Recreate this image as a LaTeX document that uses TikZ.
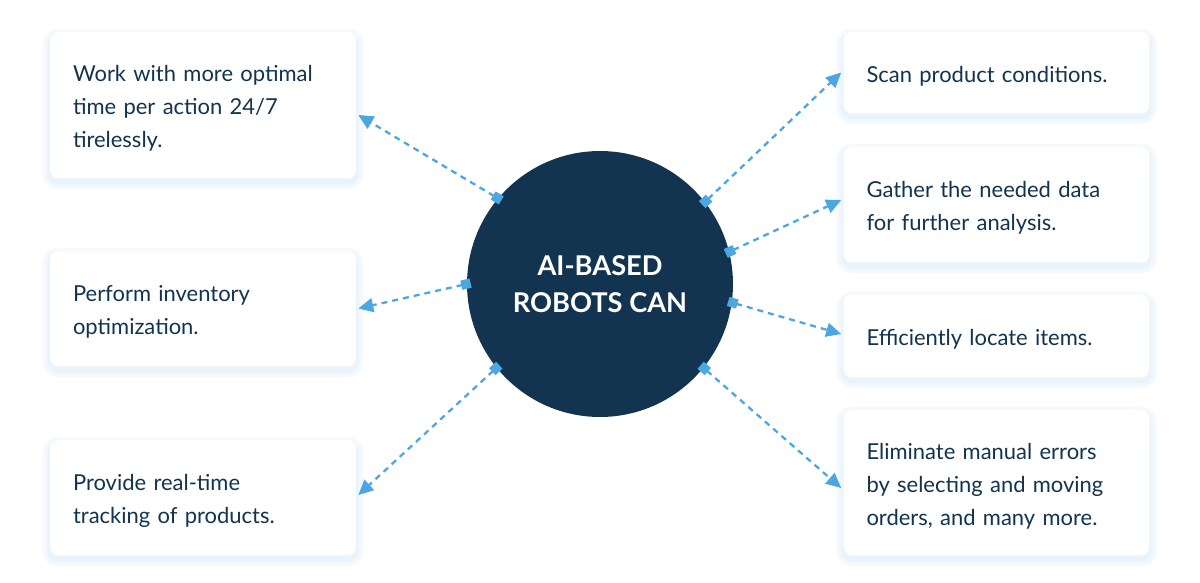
\documentclass[tikz,border=0pt]{standalone}
\usepackage{fontspec}
\setmainfont{Lato}
\usetikzlibrary{arrows.meta}
\definecolor{robotnavy}{RGB}{18,52,80}
\definecolor{linkblue}{RGB}{76,166,224}
\definecolor{shadeblue}{RGB}{190,220,242}

\begin{document}
\begin{tikzpicture}[x=0.02cm, y=-0.02cm,
    glow/.style={preaction={draw=shadeblue, line width=#1, opacity=0.13, transform canvas={yshift=-0.08cm}}},
    card/.style={fill=white, rounded corners=0.16cm, minimum width=6.12cm, minimum height=#1,
        text width=5.2cm, inner xsep=0.46cm, align=left, text=robotnavy,
        font=\fontsize{12.5}{18.8}\selectfont,
        execute at begin node={\rule{0pt}{0.47cm}},
        glow=0.3cm, glow=0.18cm, glow=0.08cm},
    hub/.style={circle, fill=robotnavy, minimum size=5.32cm, text=white, align=center,
        font=\bfseries\fontsize{15.5}{21}\selectfont},
    link/.style={linkblue, line width=1.3pt, dash pattern=on 0.12cm off 0.1cm, shorten <=-0.08cm,
        {Square[length=0.19cm,width=0.19cm]}-{Triangle[length=0.3cm,width=0.28cm]}},
]
\useasboundingbox (0,0) rectangle (1200,582);

% centre
\node[hub] (hub) at (600,284) {AI-BASED\\ROBOTS CAN};

% left cards
\node[card=2.92cm] (work) at (203,105) {Work with more optimal\\time per action 24/7\\tirelessly.};
\node[card=2.3cm] (inventory) at (203,308.5) {Perform inventory\\optimization.};
\node[card=2.3cm] (tracking) at (203,497.5) {Provide real-time\\tracking of products.};

% right cards
\node[card=1.62cm] (scan) at (996.5,72.5) {Scan product conditions.};
\node[card=2.3cm] (gather) at (996.5,204.5) {Gather the needed data\\for further analysis.};
\node[card=1.64cm] (locate) at (996.5,336) {Efficiently locate items.};
\node[card=2.9cm] (errors) at (996.5,482.5) {Eliminate manual errors\\by selecting and moving\\orders, and many more.};

\draw[link] (hub.140.8) -- ([xshift=0.04cm,yshift=-0.2cm]work.east);
\draw[link] (hub.180.4) -- ([xshift=0.04cm]inventory.east);
\draw[link] (hub.219) -- ([xshift=0.04cm,yshift=0.05cm]tracking.east);
\draw[link] (hub.38.5) -- ([xshift=-0.04cm]scan.west);
\draw[link] (hub.14) -- ([xshift=-0.04cm,yshift=0.09cm]gather.west);
\draw[link] (hub.-8.7) -- ([xshift=-0.04cm,yshift=0.04cm]locate.west);
\draw[link] (hub.-39) -- ([xshift=-0.04cm,yshift=-0.11cm]errors.west);
\end{tikzpicture}
\end{document}
